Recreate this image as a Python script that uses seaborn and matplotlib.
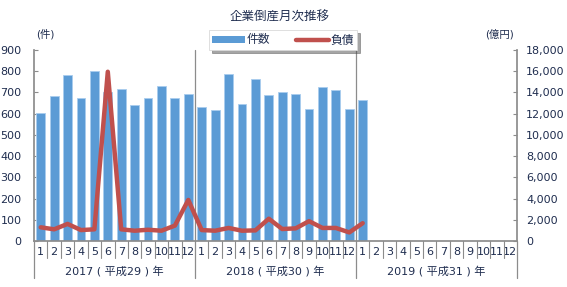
import numpy as np
import pandas as pd
import matplotlib
matplotlib.use("Agg")
import matplotlib.pyplot as plt
from matplotlib.patches import Patch
from matplotlib.lines import Line2D
import seaborn as sns

# ---- data ----
years = ["2017", "2018", "2019"]
year_labels = ["2017 ( 平成29 ) 年", "2018 ( 平成30 ) 年", "2019 ( 平成31 ) 年"]
months = [str(m) for m in range(1, 13)]
counts = [605, 685, 784, 675, 800, 704, 715, 639, 675, 732, 675, 694,
          633, 616, 788, 647, 765, 689, 701, 691, 620, 727, 713, 620,
          663]
debt = [1290, 1100, 1610, 1030, 1100, 15950, 1100, 970, 1060, 970, 1450, 3870,
        1030, 970, 1230, 970, 1000, 2100, 1130, 1190, 1870, 1230, 1230, 810,
        1680]
title = "企業倒産月次推移"
left_unit = "(件)"
right_unit = "(億円)"
legend_labels = ["件数", "負債"]

sns.set_theme(style="white")
plt.rcParams["font.family"] = ["DejaVu Sans", "Noto Sans CJK JP"]
text_color = "#1F2D4F"
grid_color = "#8C8C8C"
bar_color = "#5B9BD5"
line_color = "#C0504D"

cats = [f"{y}-{m}" for y in years for m in months]
df = pd.DataFrame({"cat": cats[:len(counts)], "count": counts})

fig = plt.figure(figsize=(5.67, 2.87), dpi=100)
ax = fig.add_axes([34 / 567, 1 - 241 / 287, (517 - 34) / 567, (241 - 50) / 287])

sns.barplot(data=df, x="cat", y="count", order=cats, color=bar_color,
            width=0.66, edgecolor="#A9CDEE", linewidth=0.6, saturation=1, ax=ax)
ax.set_xlim(-0.5, len(cats) - 0.5)
ax.set_ylim(0, 900)
ax.set_yticks(np.arange(0, 901, 100))
ax.set_xlabel("")
ax.set_ylabel("")

ax2 = ax.twinx()
sns.lineplot(x=np.arange(len(debt)), y=debt, color=line_color, linewidth=3.2, ax=ax2)
ax2.set_ylim(0, 18000)
ax2.set_yticks(np.arange(0, 18001, 2000))
ax2.set_yticklabels([f"{v:,}" for v in range(0, 18001, 2000)])
ax2.set_xlim(-0.5, len(cats) - 0.5)

for a in (ax, ax2):
    for s in a.spines.values():
        s.set_visible(False)
    a.tick_params(axis="y", colors=grid_color, labelcolor=text_color, labelsize=8,
                  direction="in", length=3, width=0.8)

ax.spines["left"].set_visible(True)
ax.spines["left"].set_color(grid_color)
ax.spines["bottom"].set_visible(True)
ax.spines["bottom"].set_color(grid_color)
ax2.spines["right"].set_visible(True)
ax2.spines["right"].set_color(grid_color)
ax.tick_params(axis="y", left=True, right=False, pad=9)
ax2.tick_params(axis="y", right=True, left=False, pad=6.5)

# month labels
ax.set_xticks(np.arange(len(cats)))
ax.set_xticklabels(months * len(years))
ax.tick_params(axis="x", length=0, pad=4, labelsize=8, labelcolor=text_color)

trans = ax.get_xaxis_transform()
for i in range(len(cats) + 1):
    x = i - 0.5
    if i % 12 == 0:
        ax.plot([x, x], [1 if 0 < i < len(cats) else 0, -0.195], transform=trans,
                color=grid_color, lw=0.9, clip_on=False)
    else:
        ax.plot([x, x], [0, -0.09], transform=trans, color=grid_color, lw=0.8, clip_on=False)
for k, yl in enumerate(year_labels):
    ax.text(k * 12 + 5.5, -0.155, yl, transform=trans, ha="center", va="center",
            fontsize=8, color=text_color)

fig.text(280 / 567, 1 - 17 / 287, title, ha="center", va="center", fontsize=9, color=text_color)
fig.text(45 / 567, 1 - 34 / 287, left_unit, ha="center", va="center", fontsize=7.5, color=text_color)
fig.text(500 / 567, 1 - 34 / 287, right_unit, ha="center", va="center", fontsize=7.5, color=text_color)

handles = [Patch(facecolor=bar_color, edgecolor="none"),
           Line2D([0], [0], color=line_color, lw=3.2)]
leg = fig.legend(handles, legend_labels, ncol=2, loc="center",
                 bbox_to_anchor=(283 / 567, 1 - 40 / 287), frameon=True, shadow=True,
                 fontsize=8.5, handlelength=2.8, handleheight=0.5, columnspacing=2.2,
                 handletextpad=0.1, borderpad=0.3, fancybox=False)
leg.get_frame().set_edgecolor("#D9D9D9")
leg.get_frame().set_linewidth(0.6)
for t in leg.get_texts():
    t.set_color(text_color)

fig.savefig("out.png", dpi=100)
